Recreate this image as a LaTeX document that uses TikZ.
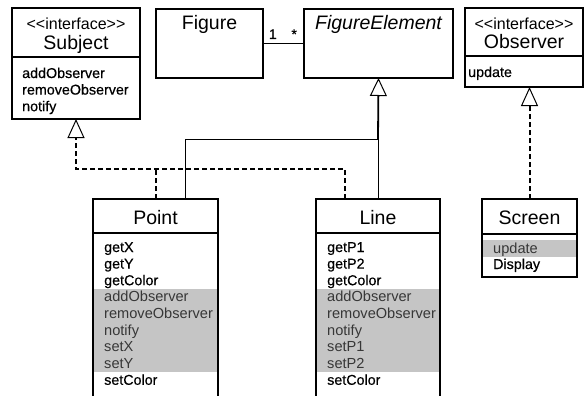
\documentclass[tikz,border=0pt]{standalone}
\usepackage{fontspec}
\setmainfont{Liberation Sans}
\newfontfamily\heavyfont{Liberation Sans}[FakeBold=0.5]
\usetikzlibrary{arrows.meta,positioning}
\definecolor{inhbg}{RGB}{197,197,197}
\definecolor{inhtext}{RGB}{55,55,55}
\newcommand{\Stereotype}[1]{<\kern0pt<#1>\kern0pt>}

\begin{document}
\begin{tikzpicture}[x=1pt,y=-1pt
        ,classbox/.style={draw=black,line width=1.2pt,rectangle,inner sep=0pt,outer sep=0pt,anchor=north west}
        ,title/.style={anchor=base,inner sep=0pt,font=\fontsize{19.5}{22}\selectfont}
        ,stereo/.style={anchor=base,inner sep=0pt,font=\fontsize{16}{18}\selectfont}
        ,method/.style={anchor=base west,inner sep=0pt,font=\fontsize{14.6}{16}\selectfont}
        ,inh/.style={method,text=inhtext}
        ,own/.style={method,text=black,font=\fontsize{14.3}{16}\heavyfont}
        ,mult/.style={above=4pt,inner sep=0pt,font=\fontsize{14}{16}\heavyfont}
        ,divider/.style={line width=1.2pt}
        ,assoc/.style={line width=1pt}
        ,inherit/.style={line width=1pt}
        ,trunk/.style={line width=1.8pt,-{Triangle[open,length=18pt,width=17pt,line width=1pt]}}
        ,dashline/.style={line width=2pt,dash pattern=on 5pt off 3pt}
        ,realize/.style={dashline,-{Triangle[open,length=19pt,width=17pt,line width=1pt]}}
      ]
      \useasboundingbox (0,0) rectangle (584,396);
      \clip (0,0) rectangle (584,396);

      % shaded rows (inherited behaviour)
      \fill[inhbg] (93,289) rectangle (218,372);
      \fill[inhbg] (316,289) rectangle (440,372);
      \fill[inhbg] (482,240) rectangle (577,257);

      % interface Subject
      \node[classbox,minimum width=128pt,minimum height=111pt] (subject) at (12,8) {};
      \node[stereo] (subject-st) at (76,30) {\Stereotype{interface}};
      \node[title] (subject-t) at (76,50) {Subject};
      \draw[divider] (12,57) -- (140,57);
      \foreach \m [count=\i from 0] in {addObserver,removeObserver,notify}
        \node[own] (subject-\i) at (22,78+16.6*\i) {\m};

      % Figure and FigureElement
      \node[classbox,minimum width=107pt,minimum height=69pt] (figure) at (156,9) {};
      \node[title] (figure-t) at (209.5,30) {Figure};
      \node[classbox,minimum width=149pt,minimum height=69pt] (figelem) at (304,9) {};
      \node[title] (figelem-t) at (378.5,30) {\itshape FigureElement};
      \draw[assoc] (figure) -- node[mult,pos=.24]{1} node[mult,pos=.76]{*} (figelem);

      % interface Observer
      \node[classbox,minimum width=118pt,minimum height=79pt] (observer) at (465,8) {};
      \node[stereo] (observer-st) at (524,30) {\Stereotype{interface}};
      \node[title] (observer-t) at (524,49) {Observer};
      \draw[divider] (465,56) -- (583,56);
      \node[own] (observer-0) at (468,77) {update};

      % Point
      \node[classbox,minimum width=125pt,minimum height=210pt] (point) at (93,199) {};
      \node[title] (point-t) at (155.5,224) {Point};
      \draw[divider] (93,233) -- (218,233);
      \foreach \m/\s [count=\i from 0] in {getX/own,getY/own,getColor/own,addObserver/inh,removeObserver/inh,notify/inh,setX/inh,setY/inh,setColor/own}
        \node[\s] (point-\i) at (104,252+16.6*\i) {\m};

      % Line
      \node[classbox,minimum width=124pt,minimum height=210pt] (line) at (316,199) {};
      \node[title] (line-t) at (378,224) {Line};
      \draw[divider] (316,233) -- (440,233);
      \foreach \m/\s [count=\i from 0] in {getP1/own,getP2/own,getColor/own,addObserver/inh,removeObserver/inh,notify/inh,setP1/inh,setP2/inh,setColor/own}
        \node[\s] (line-\i) at (327,252+16.6*\i) {\m};

      % Screen
      \node[classbox,minimum width=95pt,minimum height=78pt] (screen) at (482,199) {};
      \node[title] (screen-t) at (529.5,224) {Screen};
      \draw[divider] (482,234) -- (577,234);
      \node[inh] (screen-0) at (493,253) {update};
      \node[own] (screen-1) at (493,269) {Display};

      % generalization to FigureElement
      \coordinate (joint) at (line.north |- 0,139);
      \coordinate (ptin) at ([xshift=92pt]point.north west);
      \draw[inherit] (line.north) -- (joint) -| (ptin);
      \draw[trunk] (joint) -- (figelem.south);

      % realizations
      \coordinate (lnreal) at ([xshift=29pt]line.north west);
      \draw[realize] (lnreal) |- (subject.south |- 0,169) -- (subject.south);
      \draw[dashline] (point.north) -- (point.north |- 0,169);
      \draw[realize] (screen.north) -- (screen.north |- observer.south);
    \end{tikzpicture}
\end{document}
